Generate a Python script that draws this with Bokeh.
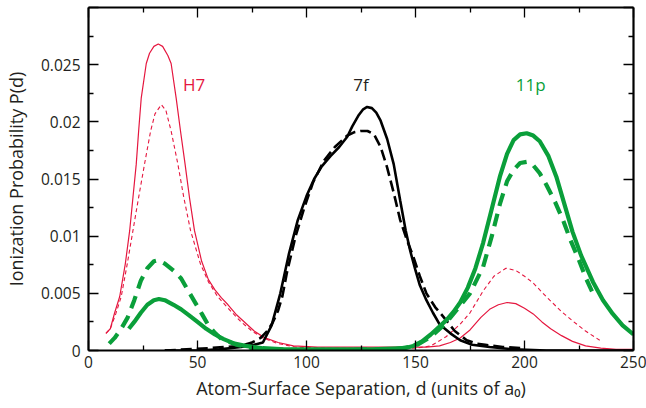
from bokeh.plotting import figure
from bokeh.models import LinearAxis, Range1d, FixedTicker, ColumnDataSource
from bokeh.core.properties import value
from bokeh.embed import file_html
from bokeh.resources import INLINE

# ---- data ----
h7_solid_d = [8, 10, 12, 14.3, 16.9, 18.9, 20.4, 21.9, 23, 24.2, 26.5, 28, 30, 32, 34, 36.4, 37.9, 40.2, 42.2,
              44.3, 46.3, 48.6, 51.9, 55, 58, 61, 64, 68, 72, 76, 81, 87, 94, 105, 120, 140, 155, 161, 166,
              170.5, 175, 180, 184, 188, 192, 196, 200, 204, 208, 212, 217, 222, 228, 235, 242, 250]
h7_solid_p = [0.0015, 0.0019, 0.0033, 0.0047, 0.0076, 0.0105, 0.0134, 0.0163, 0.0192, 0.0221, 0.0251, 0.0260,
              0.0266, 0.0268, 0.0266, 0.0258, 0.0251, 0.0221, 0.0192, 0.0163, 0.0134, 0.0105, 0.0078, 0.0062,
              0.0053, 0.0046, 0.0040, 0.0031, 0.0024, 0.0017, 0.0011, 0.0007, 0.0004, 0.0003, 0.0003, 0.0003,
              0.0003, 0.0004, 0.0007, 0.0011, 0.0018, 0.0029, 0.0036, 0.0040, 0.0042, 0.0041, 0.0037, 0.0032,
              0.0025, 0.0019, 0.0013, 0.0008, 0.0004, 0.0002, 0.0001, 0.0001]

h7_dash_d = [8, 10, 12.5, 15, 17.8, 20.4, 23, 25.7, 28.5, 30.5, 33.4, 35.5, 37.9, 41, 43.7, 46.8, 51.3, 55,
             59.3, 64, 70, 75, 80, 87, 95, 110, 130, 150, 157, 164, 170.5, 175, 181, 186, 191.5, 196, 200,
             204, 208, 211.6, 217, 222, 228, 234.5]
h7_dash_p = [0.0015, 0.0019, 0.0032, 0.0047, 0.0076, 0.0105, 0.0134, 0.0163, 0.0192, 0.0207, 0.0215, 0.0210,
             0.0192, 0.0163, 0.0134, 0.0105, 0.0076, 0.0060, 0.0047, 0.0037, 0.0025, 0.0017, 0.0011, 0.0006,
             0.0003, 0.0002, 0.0002, 0.0002, 0.0004, 0.0012, 0.0023, 0.0033, 0.0052, 0.0065, 0.0072, 0.0070,
             0.0065, 0.0059, 0.0051, 0.0044, 0.0034, 0.0026, 0.0017, 0.0009]

p11_solid_d = [18.5, 21, 24, 27, 30, 32.3, 35, 39, 42.5, 46, 50, 54, 58, 62, 67, 72, 80, 90, 110, 130, 145,
               149, 153, 157, 161, 164.4, 167.5, 170.5, 174, 177.5, 181, 185, 188.7, 192, 195, 198, 201, 204,
               207, 211, 214.6, 218, 222, 226, 231.4, 236, 240.5, 245, 250]
p11_solid_p = [0.0019, 0.0025, 0.0033, 0.0040, 0.0044, 0.0045, 0.0044, 0.0040, 0.0036, 0.0031, 0.0025, 0.0019,
               0.0014, 0.0010, 0.0006, 0.0004, 0.0002, 0.0001, 0.0001, 0.0001, 0.0002, 0.0004, 0.0008, 0.0014,
               0.0021, 0.0027, 0.0034, 0.0042, 0.0055, 0.0072, 0.0094, 0.0124, 0.0152, 0.0172, 0.0184, 0.0189,
               0.0190, 0.0188, 0.0183, 0.0170, 0.0152, 0.0130, 0.0104, 0.0083, 0.0060, 0.0044, 0.0032, 0.0022,
               0.0014]

p11_dash_d = [9.5, 12, 15, 18, 21, 24, 27, 30, 32, 35, 39.5, 42.5, 45.5, 48.6, 52, 55, 57.7, 61, 68, 75, 85,
              100, 140, 150, 157, 164, 170, 175, 181, 185, 188.7, 192, 195, 198, 201, 204, 207, 210, 214,
              217.7, 221, 225, 228, 231.4]
p11_dash_p = [0.0006, 0.0011, 0.0019, 0.0029, 0.0044, 0.0061, 0.0072, 0.0078, 0.0079, 0.0076, 0.0069, 0.0063,
              0.0053, 0.0043, 0.0032, 0.0022, 0.0016, 0.0010, 0.0005, 0.0002, 0.0001, 0.0000, 0.0001, 0.0004,
              0.0012, 0.0024, 0.0038, 0.0050, 0.0073, 0.0100, 0.0128, 0.0148, 0.0158, 0.0164, 0.0165, 0.0162,
              0.0155, 0.0145, 0.0130, 0.0114, 0.0097, 0.0079, 0.0064, 0.0050]

f7_solid_d = [35, 50, 60, 70, 76, 80, 84, 88, 92, 96, 100, 103.5, 107, 111, 115, 118.7, 121, 124, 126, 127.8,
              130, 132, 134, 137, 140, 143, 145.5, 147.6, 150, 152, 155, 158, 161, 166, 170.5, 176, 184, 195,
              210, 250]
f7_solid_p = [0.0, 0.0, 0.0001, 0.0003, 0.0005, 0.0007, 0.0022, 0.0050, 0.0085, 0.0114, 0.0135, 0.0150,
              0.0161, 0.0170, 0.0178, 0.0187, 0.0196, 0.0206, 0.0211, 0.0213, 0.0212, 0.0208, 0.0201, 0.0185,
              0.0163, 0.0131, 0.0105, 0.0087, 0.0070, 0.0057, 0.0044, 0.0033, 0.0023, 0.0015, 0.0009, 0.0005,
              0.0003, 0.0001, 0.0, 0.0]

f7_dash_d = [35, 45, 55, 62, 70, 75, 79, 82, 84.4, 87, 89, 91, 95, 99, 103, 108, 113, 118.7, 122, 124.8, 128,
             131, 134, 137, 140, 143, 146, 149, 152, 155, 159, 163, 168, 173.5, 178, 182, 190, 200]
f7_dash_p = [0.0, 0.0001, 0.0002, 0.0003, 0.0004, 0.0007, 0.0011, 0.0017, 0.0024, 0.0035, 0.0048, 0.0068,
             0.0100, 0.0125, 0.0147, 0.0166, 0.0178, 0.0188, 0.0191, 0.0192, 0.0192, 0.0189, 0.0178, 0.0160,
             0.0138, 0.0114, 0.0097, 0.0082, 0.0065, 0.0050, 0.0038, 0.0029, 0.0017, 0.0009, 0.0006, 0.0005,
             0.0003, 0.0002]

label_text = ["H7", "7f", "11p"]
label_x = [43.3, 121.5, 196.0]
label_y = [0.0233, 0.0233, 0.0233]

x_ticks = [0, 50, 100, 150, 200, 250]
y_ticks = [0, 0.005, 0.01, 0.015, 0.02, 0.025]
y_labels = {0: "0", 0.005: "0.005", 0.01: "0.01", 0.015: "0.015", 0.02: "0.02", 0.025: "0.025"}

RED = "#E5173F"
GREEN = "#0A9F3A"
BLACK = "#000000"
TEXT = "#231F20"
FONT = "Open Sans"

p = figure(width=646, height=408, output_backend="svg", toolbar_location=None,
           x_range=Range1d(0, 250), y_range=Range1d(0, 0.030),
           min_border_left=86, min_border_right=13, min_border_top=7, min_border_bottom=58,
           x_axis_location=None, y_axis_location=None)
p.grid.visible = False
p.outline_line_color = None
p.background_fill_color = "white"
p.border_fill_color = "white"

def style_axis(ax, show_labels):
    ax.axis_line_width = 2.2
    ax.axis_line_color = "black"
    ax.major_tick_in = 10
    ax.major_tick_out = 0
    ax.minor_tick_in = 5
    ax.minor_tick_out = 0
    ax.major_tick_line_width = 1.3
    ax.minor_tick_line_width = 1.3
    ax.major_label_text_font = FONT
    ax.major_label_text_font_size = "15.5px"
    ax.major_label_text_color = TEXT if show_labels else None
    ax.axis_label_text_font = FONT
    ax.axis_label_text_font_size = "18px"
    ax.axis_label_text_font_style = "normal"
    ax.axis_label_text_color = TEXT

xt = FixedTicker(ticks=x_ticks, minor_ticks=[25, 75, 125, 175, 225])
yt = FixedTicker(ticks=y_ticks + [0.03],
                 minor_ticks=[0.0025, 0.0075, 0.0125, 0.0175, 0.0225, 0.0275])

xb = LinearAxis(ticker=xt, axis_label="Atom-Surface Separation, d (units of a\u2080)")
style_axis(xb, True)
xb.major_label_standoff = 5
xb.axis_label_standoff = 5
p.add_layout(xb, "below")

yl = LinearAxis(ticker=yt, axis_label="Ionization Probability P(d)")
style_axis(yl, True)
yl.major_label_standoff = 8
yl.axis_label_standoff = 10
yl.major_label_overrides = {**y_labels, 0.03: ""}
p.add_layout(yl, "left")

xa = LinearAxis(ticker=xt)
style_axis(xa, False)
xa.major_label_text_font_size = "0px"
xa.major_label_standoff = 0
p.add_layout(xa, "above")

yr = LinearAxis(ticker=yt)
style_axis(yr, False)
yr.major_label_text_font_size = "0px"
yr.major_label_standoff = 0
p.add_layout(yr, "right")

# curves
p.line(h7_solid_d, h7_solid_p, line_color=RED, line_width=1.2)
p.line(h7_dash_d, h7_dash_p, line_color=RED, line_width=1.1, line_dash="4 3")
p.line(f7_solid_d, f7_solid_p, line_color=BLACK, line_width=2.6)
p.line(f7_dash_d, f7_dash_p, line_color=BLACK, line_width=2.6, line_dash="11 5")
p.line(p11_solid_d, p11_solid_p, line_color=GREEN, line_width=4.2)
p.line(p11_dash_d, p11_dash_p, line_color=GREEN, line_width=4.2, line_dash="13 8")

src = ColumnDataSource(dict(x=label_x, y=label_y, t=label_text, c=[RED, TEXT, GREEN]))
p.text(x="x", y="y", text="t", text_color="c", source=src, text_font=value(FONT),
       text_font_size="17px", text_baseline="middle", text_align="left")

open("out.html", "w").write(file_html(p, INLINE))
